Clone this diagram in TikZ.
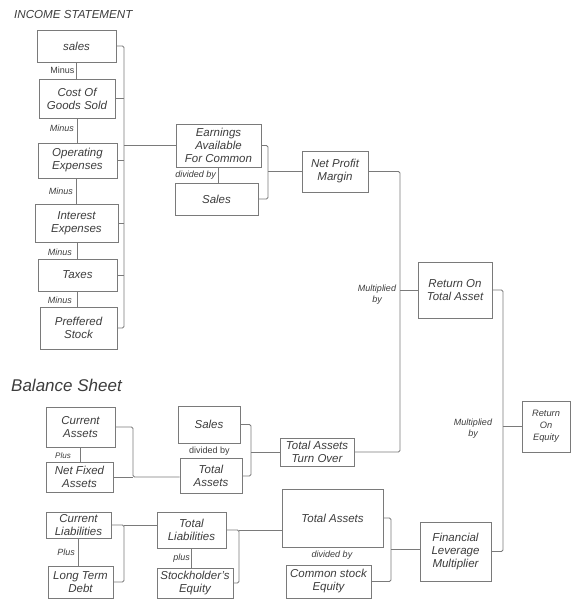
\documentclass[tikz,border=0pt]{standalone}
\usepackage{fontspec}
\setmainfont{Liberation Sans}
\definecolor{linegray}{HTML}{7A7A7A}
\definecolor{textgray}{HTML}{3C3C3C}
\begin{document}
\begin{tikzpicture}[x=1pt, y=-1pt,
    box/.style={draw=linegray, line width=0.8pt, rectangle, align=center, inner sep=1pt,
        text=textgray, font=\fontsize{11.5}{13}\selectfont\itshape},
    lbl/.style={text=textgray, inner sep=0pt, font=\fontsize{9}{11}\selectfont\itshape},
    conn/.style={draw=linegray, line width=0.8pt, rounded corners=1.5pt}]
    \useasboundingbox (0,0) rectangle (574,599);

    % Headings
    \node[lbl, anchor=west, font=\fontsize{11.6}{13}\selectfont\itshape] (inc) at (14,15) {INCOME STATEMENT};
    \node[lbl, anchor=west, font=\fontsize{17}{20}\selectfont\itshape] (bal) at (11,385) {Balance Sheet};

    % Boxes - income statement
    \node[box, minimum width=79, minimum height=32] (sales) at (76.5,46) {sales};
    \node[box, minimum width=76, minimum height=39] (cogs) at (77,98.5) {Cost Of\\Goods Sold};
    \node[box, minimum width=79, minimum height=35] (opex) at (77.5,160.5) {Operating\\Expenses};
    \node[box, minimum width=83, minimum height=38] (intexp) at (76.5,223) {Interest\\Expenses};
    \node[box, minimum width=79, minimum height=32] (taxes) at (77.5,275) {Taxes};
    \node[box, minimum width=77, minimum height=42] (pref) at (78.5,328) {Preffered\\Stock};
    \node[box, minimum width=85, minimum height=43] (eafc) at (218.5,145.5) {Earnings\\Available\\For Common};
    \node[box, minimum width=83, minimum height=32] (isales) at (216.5,199) {Sales};
    \node[box, minimum width=66, minimum height=41] (npm) at (335,171.5) {Net Profit\\Margin};
    \node[box, minimum width=74, minimum height=56] (rota) at (455,290) {Return On\\Total Asset};
    \node[box, minimum width=48, minimum height=51, font=\fontsize{9.3}{12}\selectfont\itshape] (roe) at (546,426.5) {Return\\On\\Equity};

    % Boxes - balance sheet
    \node[box, minimum width=69, minimum height=40] (ca) at (80.5,427) {Current\\Assets};
    \node[box, minimum width=67, minimum height=30] (nfa) at (79.5,477) {Net Fixed\\Assets};
    \node[box, minimum width=62, minimum height=37] (bsales) at (209,424.5) {Sales};
    \node[box, minimum width=62, minimum height=35] (ta) at (211,476) {Total\\Assets};
    \node[box, minimum width=74, minimum height=28] (tato) at (317,452) {Total Assets\\Turn Over};
    \node[box, minimum width=65, minimum height=26] (cl) at (78.5,525) {Current\\Liabilities};
    \node[box, minimum width=65, minimum height=32] (ltd) at (80.5,582) {Long Term\\Debt};
    \node[box, minimum width=69, minimum height=36] (tl) at (191.5,530) {Total\\Liabilities};
    \node[box, minimum width=76, minimum height=30] (se) at (195,583) {Stockholder's\\Equity};
    \node[box, minimum width=101, minimum height=58] (bta) at (332.5,518) {Total Assets};
    \node[box, minimum width=85, minimum height=33] (cse) at (328.5,581.5) {Common stock\\Equity};
    \node[box, minimum width=71, minimum height=59] (flm) at (455.5,551.5) {Financial\\Leverage\\Multiplier};

    % Connections - stacks
    \draw[conn] (sales.south) -- (sales.south |- cogs.north);
    \draw[conn] (cogs.south) -- (cogs.south |- opex.north);
    \draw[conn] (intexp.north |- opex.south) -- (intexp.north);
    \draw[conn] (taxes.north |- intexp.south) -- (taxes.north);
    \draw[conn] (taxes.south) -- (taxes.south |- pref.north);
    \draw[conn] (eafc.south) -- (eafc.south |- isales.north);
    \draw[conn] (ca.south) -- (ca.south |- nfa.north);
    \draw[conn] (cl.south) -- (cl.south |- ltd.north);
    \draw[conn] (tl.south) -- (tl.south |- se.north);

    % Connections - brackets
    \coordinate (isbar) at (124,145.5);
    \draw[conn] (sales.east) -| (isbar) |- (pref.east);
    \foreach \b in {cogs,opex,intexp,taxes}
        \draw[conn] (\b.east) -- (\b.east -| isbar);
    \draw[conn] (isbar) -- (eafc.west);

    \coordinate (npbar) at (268,171.5);
    \draw[conn] (eafc.east) -| (npbar) |- (isales.east);
    \draw[conn] (npbar) -- (npm.west);

    \coordinate (rbar) at (400,290);
    \draw[conn] (npm.east) -| (rbar) |- (tato.east);
    \draw[conn] (rbar) -- (rota.west);

    \coordinate (ebar) at (503,426.5);
    \draw[conn] (rota.east) -| (ebar) |- (flm.east);
    \draw[conn] (ebar) -- (roe.west);

    \coordinate (abar) at (133,477);
    \draw[conn] (ca.east) -| (abar) -- (abar -| ta.west);
    \draw[conn] (nfa.east) -- (abar);

    \coordinate (tbar) at (251,452);
    \draw[conn] (bsales.east) -| (tbar) |- (ta.east);
    \draw[conn] (tbar) -- (tato.west);

    \coordinate (lbar) at (124,525);
    \draw[conn] (cl.east) -- (lbar) |- (ltd.east);
    \draw[conn] (lbar) -- (lbar -| tl.west);

    \coordinate (qbar) at (239,530);
    \draw[conn] (tl.east) -- (qbar) |- (se.east);
    \draw[conn] (qbar) -- (qbar -| bta.west);

    \coordinate (fbar) at (391,549);
    \draw[conn] (bta.east) -| (fbar) |- (cse.east);
    \draw[conn] (fbar) -- (fbar -| flm.west);

    % Labels
    \node[lbl, anchor=east, font=\fontsize{9}{11}\selectfont] (m1) at (74.5,70) {Minus};
    \node[lbl, anchor=east] (m2) at (74,128) {Minus};
    \node[lbl, anchor=east] (m3) at (73,191) {Minus};
    \node[lbl, anchor=east] (m4) at (72,252) {Minus};
    \node[lbl, anchor=east] (m5) at (72,300) {Minus};
    \node[lbl, anchor=east] (d1) at (216,175) {divided by};
    \node[lbl, align=center] (x1) at (377,295) {Multiplied\\by};
    \node[lbl, align=center] (x2) at (473,428.5) {Multiplied\\by};
    \node[lbl, anchor=east, font=\fontsize{8}{10}\selectfont\itshape] (p1) at (71,456) {Plus};
    \node[lbl, font=\fontsize{9}{11}\selectfont] (d2) at (209.5,451) {divided by};
    \node[lbl, anchor=east] (p2) at (75,552) {Plus};
    \node[lbl, anchor=east] (p3) at (190,558) {plus};
    \node[lbl] (d3) at (332,555) {divided by};
\end{tikzpicture}
\end{document}
